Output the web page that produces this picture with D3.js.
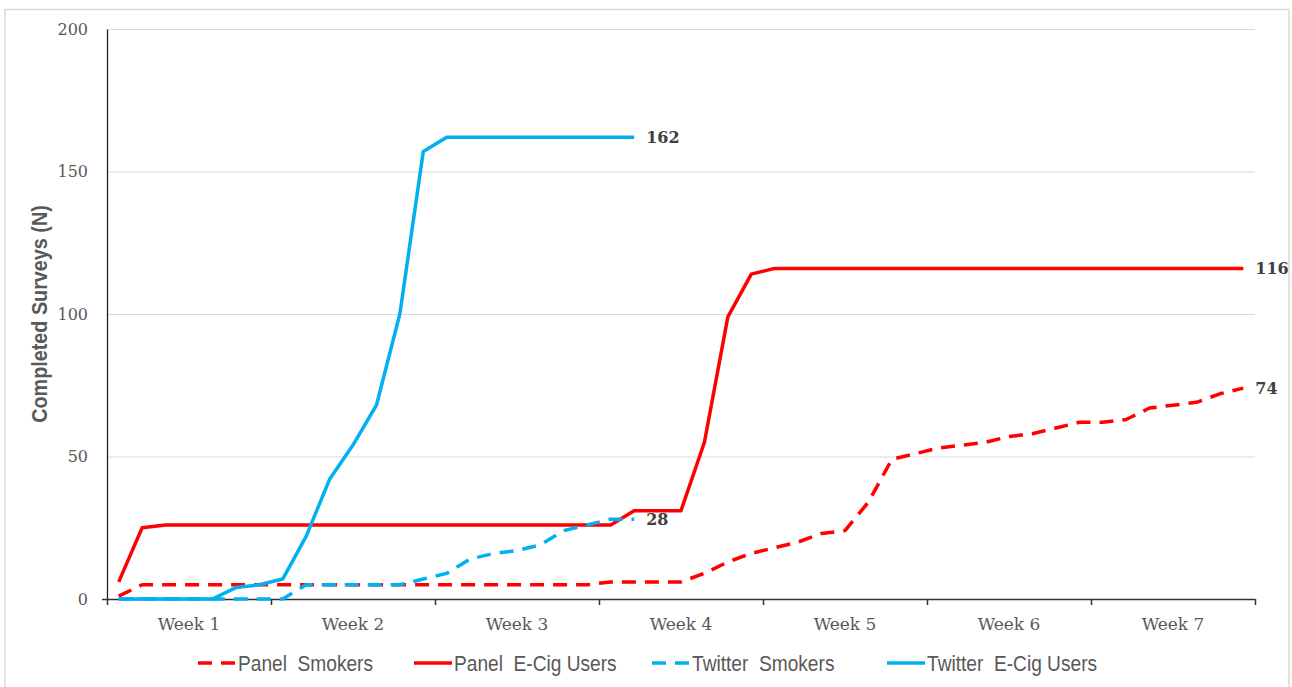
<!DOCTYPE html>
<html>
<head>
<meta charset="utf-8">
<script src="https://cdn.jsdelivr.net/npm/d3@7"></script>
<style>
  body { margin: 0; background: #fff; }
  svg { display: block; }
</style>
</head>
<body>
<svg id="chart"></svg>
<script>
// week categories along the bottom
const weeks = ["Week 1", "Week 2", "Week 3", "Week 4", "Week 5", "Week 6", "Week 7"];
const daysPerWeek = 7;

// cumulative completed surveys, one value per day
const panelSmokers = [
  1, 5, 5, 5, 5, 5, 5, 5, 5, 5,
  5, 5, 5, 5, 5, 5, 5, 5, 5, 5,
  5, 6, 6, 6, 6, 9, 13, 16, 18, 20,
  23, 24, 34, 49, 51, 53, 54, 55, 57, 58,
  60, 62, 62, 63, 67, 68, 69, 72, 74
];
const panelEcig = [
  6, 25, 26, 26, 26, 26, 26, 26, 26, 26,
  26, 26, 26, 26, 26, 26, 26, 26, 26, 26,
  26, 26, 31, 31, 31, 55, 99, 114, 116, 116,
  116, 116, 116, 116, 116, 116, 116, 116, 116, 116,
  116, 116, 116, 116, 116, 116, 116, 116, 116
];
const twitterSmokers = [
  0, 0, 0, 0, 0, 0, 0, 0, 5, 5,
  5, 5, 5, 7, 9, 14, 16, 17, 19, 24,
  26, 28, 28
];
const twitterEcig = [
  0, 0, 0, 0, 0, 4, 5, 7, 22, 42,
  54, 68, 100, 157, 162, 162, 162, 162, 162, 162,
  162, 162, 162
];

const seriesNames = ["Panel  Smokers", "Panel  E-Cig Users", "Twitter  Smokers", "Twitter  E-Cig Users"];
const yTicks = [0, 50, 100, 150, 200];
const yTitle = "Completed Surveys (N)";

const width = 1292;
const height = 687;
const margin = { top: 29, right: 37, bottom: 88, left: 107 };

const RED = "#ff0000";
const BLUE = "#00b0f0";
const series = [
  { name: seriesNames[0], values: panelSmokers, color: RED, dash: "14,9" },
  { name: seriesNames[1], values: panelEcig, color: RED, dash: null },
  { name: seriesNames[2], values: twitterSmokers, color: BLUE, dash: "14,9" },
  { name: seriesNames[3], values: twitterEcig, color: BLUE, dash: null }
];

const svg = d3.select("#chart")
  .attr("width", width)
  .attr("height", height)
  .attr("viewBox", [0, 0, width, height]);

// light frame round the chart area (the top sits just under a cut-off caption)
svg.append("rect")
  .attr("x", 5).attr("y", 9.5)
  .attr("width", 1284).attr("height", 690)
  .attr("fill", "none")
  .attr("stroke", "#d9d9d9")
  .attr("stroke-width", 1.5);

const nDays = weeks.length * daysPerWeek;
const x = d3.scaleLinear()
  .domain([0, nDays])
  .range([margin.left, width - margin.right]);

const xWeek = d3.scaleBand()
  .domain(weeks)
  .range([margin.left, width - margin.right]);

const y = d3.scaleLinear()
  .domain([0, 200])
  .range([height - margin.bottom, margin.top]);

// gridlines
svg.append("g")
  .selectAll("line")
  .data(yTicks.filter(d => d > 0))
  .join("line")
  .attr("x1", margin.left)
  .attr("x2", width - margin.right)
  .attr("y1", d => y(d) + 0.5)
  .attr("y2", d => y(d) + 0.5)
  .attr("stroke", "#d9d9d9")
  .attr("stroke-width", 1);

// y axis
const gy = svg.append("g")
  .attr("transform", `translate(${margin.left},0)`)
  .call(d3.axisLeft(y).tickValues(yTicks).tickSize(0).tickPadding(19))
  .call(g => g.select(".domain").attr("stroke", "#222").attr("stroke-width", 1.3));
gy.selectAll("text")
  .attr("font-family", "'DejaVu Serif', serif")
  .attr("font-size", 16)
  .attr("fill", "#595959");

// x axis: week labels in the bands, ticks at the week boundaries
const gx = svg.append("g")
  .attr("transform", `translate(0,${y(0)})`)
  .call(d3.axisBottom(x)
    .tickValues(d3.range(0, nDays + 1, daysPerWeek))
    .tickSize(6)
    .tickFormat(""))
  .call(g => g.selectAll("line, path").attr("stroke", "#333").attr("stroke-width", 1.5));
gx.select(".domain").attr("d", `M${margin.left - 5},0.5H${width - margin.right}`);

svg.append("g")
  .selectAll("text")
  .data(weeks)
  .join("text")
  .attr("x", d => xWeek(d) + xWeek.bandwidth() / 2)
  .attr("y", y(0) + 31)
  .attr("text-anchor", "middle")
  .attr("font-family", "'DejaVu Serif', serif")
  .attr("font-size", 17)
  .attr("fill", "#595959")
  .text(d => d);

// y axis title (squeezed a bit to look like a narrow face)
svg.append("text")
  .attr("transform", `translate(47,${(y(0) + y(200)) / 2}) rotate(-90) scale(0.9,1)`)
  .attr("text-anchor", "middle")
  .attr("font-family", "'Liberation Sans', sans-serif")
  .attr("font-weight", "bold")
  .attr("font-size", 22)
  .attr("fill", "#595959")
  .text(yTitle);

// lines
const line = d3.line()
  .x((d, i) => x(i + 0.5))
  .y(d => y(d));

svg.append("g")
  .selectAll("path")
  .data(series)
  .join("path")
  .attr("d", d => line(d.values))
  .attr("fill", "none")
  .attr("stroke", d => d.color)
  .attr("stroke-width", 3.5)
  .attr("stroke-linejoin", "round")
  .attr("stroke-dasharray", d => d.dash);

// end-of-series labels
svg.append("g")
  .selectAll("text")
  .data(series)
  .join("text")
  .attr("x", d => x(d.values.length - 0.5) + 12)
  .attr("y", d => y(d.values[d.values.length - 1]))
  .attr("dy", "0.35em")
  .attr("font-family", "'DejaVu Serif', serif")
  .attr("font-weight", "bold")
  .attr("font-size", 16)
  .attr("fill", "#404040")
  .text(d => d.values[d.values.length - 1]);

// legend
const legendX = [198, 414, 652, 887];
const legend = svg.append("g")
  .attr("transform", "translate(0,663)");

const items = legend.selectAll("g")
  .data(series)
  .join("g")
  .attr("transform", (d, i) => `translate(${legendX[i]},0)`);

items.append("line")
  .attr("x1", 0).attr("x2", 38)
  .attr("stroke", d => d.color)
  .attr("stroke-width", 3.5)
  .attr("stroke-dasharray", d => d.dash);

items.append("text")
  .attr("transform", "translate(40,0) scale(0.87,1)")
  .attr("dy", "0.35em")
  .attr("font-family", "'Liberation Sans', sans-serif")
  .attr("font-size", 22)
  .attr("fill", "#595959")
  .style("white-space", "pre")
  .text(d => d.name);
</script>
</body>
</html>
